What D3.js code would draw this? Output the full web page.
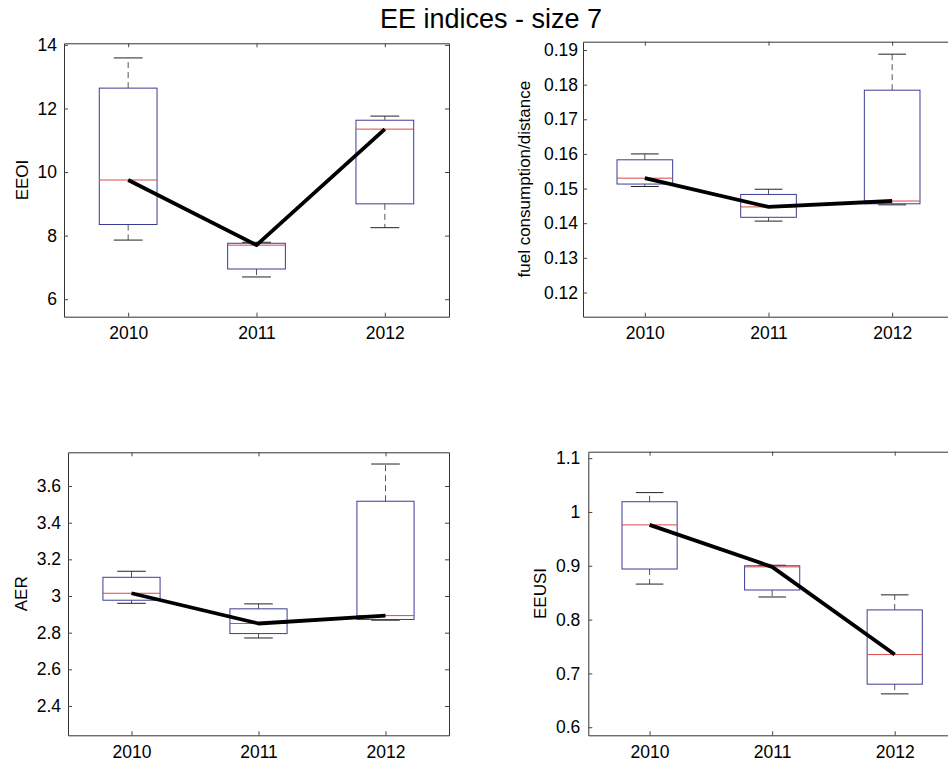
<!DOCTYPE html>
<html>
<head>
<meta charset="utf-8">
<script src="https://cdn.jsdelivr.net/npm/d3@7"></script>
<style>
  body { margin: 0; background: #fff; }
  text { font-family: "Liberation Sans", Arial, sans-serif; fill: #000; }
</style>
</head>
<body>
<script>
let width = 948
let height = 761

const years = ["2010", "2011", "2012"]

// EEOI
const eeoiLow = [7.86, 6.70, 8.25]
const eeoiQ1 = [8.35, 6.95, 9.00]
const eeoiMed = [9.75, 7.70, 11.35]
const eeoiQ3 = [12.64, 7.76, 11.63]
const eeoiHigh = [13.59, 7.79, 11.76]
const eeoiTicks = [6, 8, 10, 12, 14]
const eeoiTickLabels = ["6", "8", "10", "12", "14"]

// fuel consumption/distance
const fuelLow = [0.1506, 0.1406, 0.1453]
const fuelQ1 = [0.1513, 0.1417, 0.1456]
const fuelMed = [0.1530, 0.1447, 0.1464]
const fuelQ3 = [0.1583, 0.1483, 0.1784]
const fuelHigh = [0.1600, 0.1498, 0.1888]
const fuelTicks = [0.12, 0.13, 0.14, 0.15, 0.16, 0.17, 0.18, 0.19]
const fuelTickLabels = ["0.12", "0.13", "0.14", "0.15", "0.16", "0.17", "0.18", "0.19"]

// AER
const aerLow = [2.960, 2.771, 2.868]
const aerQ1 = [2.977, 2.795, 2.872]
const aerMed = [3.015, 2.850, 2.893]
const aerQ3 = [3.102, 2.930, 3.517]
const aerHigh = [3.135, 2.957, 3.720]
const aerTicks = [2.4, 2.6, 2.8, 3.0, 3.2, 3.4, 3.6]
const aerTickLabels = ["2.4", "2.6", "2.8", "3", "3.2", "3.4", "3.6"]

// EEUSI
const eeusiLow = [0.866, 0.842, 0.662]
const eeusiQ1 = [0.894, 0.855, 0.680]
const eeusiMed = [0.976, 0.898, 0.735]
const eeusiQ3 = [1.019, 0.900, 0.818]
const eeusiHigh = [1.036, 0.901, 0.846]
const eeusiTicks = [0.6, 0.7, 0.8, 0.9, 1.0, 1.1]
const eeusiTickLabels = ["0.6", "0.7", "0.8", "0.9", "1", "1.1"]

let svg = d3.select("body").append("svg")
	.attr("width", width)
	.attr("height", height)

svg.append("text")
	.attr("x", 491)
	.attr("y", 28)
	.attr("text-anchor", "middle")
	.style("font-size", "27px")
	.text("EE indices - size 7")

function drawPanel(p) {
	let x = d3.scaleLinear().domain([0.5, 3.5]).range([p.left, p.right])
	let y = d3.scaleLinear().domain(p.yDomain).range([p.bottom, p.top])
	let g = svg.append("g")

	// frame + ticks (MATLAB style, ticks inside)
	g.append("g").attr("transform", `translate(0,${p.bottom})`)
		.call(d3.axisBottom(x).tickValues([1, 2, 3]).tickFormat((d, i) => years[i])
			.tickSizeInner(-4).tickSizeOuter(0).tickPadding(10))
	g.append("g").attr("transform", `translate(0,${p.top})`)
		.call(d3.axisTop(x).tickValues([1, 2, 3]).tickFormat("")
			.tickSizeInner(-4).tickSizeOuter(0))
	g.append("g").attr("transform", `translate(${p.left},0)`)
		.call(d3.axisLeft(y).tickValues(p.ticks).tickFormat((d, i) => p.tickLabels[i])
			.tickSizeInner(-4).tickSizeOuter(0).tickPadding(p.pad))
	g.append("g").attr("transform", `translate(${p.right},0)`)
		.call(d3.axisRight(y).tickValues(p.ticks).tickFormat("")
			.tickSizeInner(-4).tickSizeOuter(0))
	g.selectAll(".domain").attr("stroke", "#333")
	g.selectAll(".tick line").attr("stroke", "#444")
	g.selectAll(".tick text").style("font-size", "17.5px").style("font-family", '"Liberation Sans", Arial, sans-serif').attr("fill", "#000")

	let idx = [0, 1, 2]
	let bw = 0.45, cw = 0.225

	// whiskers
	g.selectAll(".wu").data(idx).enter().append("line")
		.attr("x1", i => x(i + 1)).attr("x2", i => x(i + 1))
		.attr("y1", i => y(p.q3[i])).attr("y2", i => y(p.high[i]))
		.attr("stroke", "#555").attr("stroke-dasharray", "6,4")
	g.selectAll(".wl").data(idx).enter().append("line")
		.attr("x1", i => x(i + 1)).attr("x2", i => x(i + 1))
		.attr("y1", i => y(p.q1[i])).attr("y2", i => y(p.low[i]))
		.attr("stroke", "#555").attr("stroke-dasharray", "6,4")
	// caps
	g.selectAll(".cu").data(idx).enter().append("line")
		.attr("x1", i => x(i + 1 - cw / 2)).attr("x2", i => x(i + 1 + cw / 2))
		.attr("y1", i => y(p.high[i])).attr("y2", i => y(p.high[i]))
		.attr("stroke", "#222")
	g.selectAll(".cl").data(idx).enter().append("line")
		.attr("x1", i => x(i + 1 - cw / 2)).attr("x2", i => x(i + 1 + cw / 2))
		.attr("y1", i => y(p.low[i])).attr("y2", i => y(p.low[i]))
		.attr("stroke", "#222")
	// boxes
	g.selectAll(".box").data(idx).enter().append("rect")
		.attr("x", i => x(i + 1 - bw / 2))
		.attr("width", i => x(i + 1 + bw / 2) - x(i + 1 - bw / 2))
		.attr("y", i => y(p.q3[i]))
		.attr("height", i => y(p.q1[i]) - y(p.q3[i]))
		.attr("fill", "none").attr("stroke", "#3c3c96")
	// medians
	g.selectAll(".med").data(idx).enter().append("line")
		.attr("x1", i => x(i + 1 - bw / 2)).attr("x2", i => x(i + 1 + bw / 2))
		.attr("y1", i => y(p.med[i])).attr("y2", i => y(p.med[i]))
		.attr("stroke", "#d84848")

	// median trend line
	let line = d3.line().x((d, i) => x(i + 1)).y(d => y(d))
	g.append("path").datum(p.med)
		.attr("d", line)
		.attr("fill", "none").attr("stroke", "#000")
		.attr("stroke-width", 3.8).attr("stroke-linejoin", "round")

	g.append("text")
		.attr("transform", `translate(${p.labelX},${(p.top + p.bottom) / 2}) rotate(-90)`)
		.attr("text-anchor", "middle")
		.style("font-size", "17px")
		.text(p.label)
}

drawPanel({ left: 64, right: 449, top: 43.3, bottom: 316.7, yDomain: [5.45, 14.05],
	low: eeoiLow, q1: eeoiQ1, med: eeoiMed, q3: eeoiQ3, high: eeoiHigh,
	ticks: eeoiTicks, tickLabels: eeoiTickLabels, pad: 7, label: "EEOI", labelX: 28 })
drawPanel({ left: 583, right: 954, top: 41.7, bottom: 316.7, yDomain: [0.1130, 0.1924],
	low: fuelLow, q1: fuelQ1, med: fuelMed, q3: fuelQ3, high: fuelHigh,
	ticks: fuelTicks, tickLabels: fuelTickLabels, pad: 5, label: "fuel consumption/distance", labelX: 530 })
drawPanel({ left: 68, right: 449, top: 452.3, bottom: 735.3, yDomain: [2.24, 3.784],
	low: aerLow, q1: aerQ1, med: aerMed, q3: aerQ3, high: aerHigh,
	ticks: aerTicks, tickLabels: aerTickLabels, pad: 7, label: "AER", labelX: 27 })
drawPanel({ left: 588.3, right: 956, top: 451.7, bottom: 735.3, yDomain: [0.585, 1.112],
	low: eeusiLow, q1: eeusiQ1, med: eeusiMed, q3: eeusiQ3, high: eeusiHigh,
	ticks: eeusiTicks, tickLabels: eeusiTickLabels, pad: 8, label: "EEUSI", labelX: 546 })
</script>
</body>
</html>
